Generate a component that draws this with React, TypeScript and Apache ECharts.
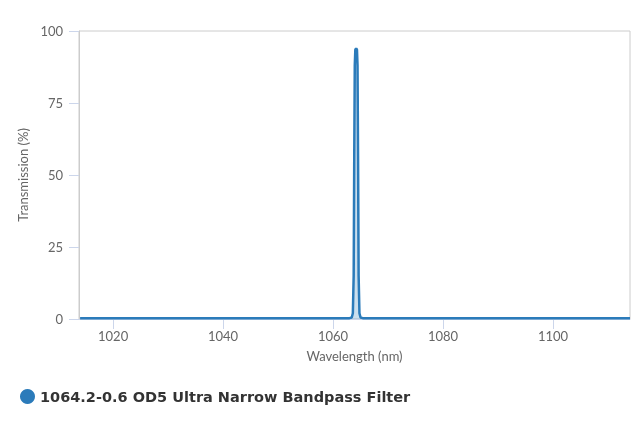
import React, { useEffect, useRef } from 'react';
import * as echarts from 'echarts';

// wavelength (nm) and transmission (%)
const wavelengths = [1014, 1063.0, 1063.4, 1063.6, 1063.75, 1063.85, 1063.95, 1064.05, 1064.2, 1064.35, 1064.45, 1064.55, 1064.65, 1064.8, 1065.0, 1065.4, 1114];
const transmission = [0.3, 0.3, 0.5, 2, 15, 55, 88, 93.5, 94, 93.5, 88, 55, 15, 2, 0.5, 0.3, 0.3];
const xTicks = [1020, 1040, 1060, 1080, 1100];
const yTicks = [0, 25, 50, 75, 100];
const seriesName = '1064.2-0.6 OD5 Ultra Narrow Bandpass Filter';

const App: React.FC = () => {
    const chartRef: any = useRef(null);

    useEffect(() => {
        const chart = echarts.init(chartRef.current, null, { renderer: 'svg' });
        const labelStyle = { color: '#666', fontSize: 13, fontFamily: 'Lato' };
        const option = {
            animation: false,
            grid: {
                left: 79, right: 10, top: 31, bottom: 108,
                show: true, borderColor: '#ccc', borderWidth: 1,
            },
            legend: {
                left: 15, top: 384,
                icon: 'circle', itemWidth: 15, itemHeight: 15, itemGap: 6,
                textStyle: { color: '#333', fontSize: 14.5, fontWeight: 'bold', fontFamily: 'DejaVu Sans' },
                data: [seriesName],
            },
            xAxis: {
                type: 'value',
                min: 1013.8,
                max: 1114,
                name: 'Wavelength (nm)',
                nameLocation: 'middle',
                nameGap: 30,
                nameTextStyle: labelStyle,
                axisLine: { lineStyle: { color: '#ccd6eb' } },
                axisTick: { show: true, length: 10, lineStyle: { color: '#ccd6eb' }, customValues: xTicks },
                axisLabel: { ...labelStyle, margin: 10, customValues: xTicks, formatter: (v: number) => String(v) },
                splitLine: { show: false },
            },
            yAxis: {
                type: 'value',
                min: 0,
                max: 100,
                interval: 25,
                name: 'Transmission (%)',
                nameLocation: 'middle',
                nameGap: 48,
                nameTextStyle: labelStyle,
                axisLine: { show: true, lineStyle: { color: '#ccc' } },
                axisTick: { show: true, length: 10, lineStyle: { color: '#ccd6eb' }, customValues: yTicks },
                axisLabel: { ...labelStyle, margin: 16 },
                splitLine: { show: false },
            },
            series: [{
                name: seriesName,
                type: 'line',
                data: wavelengths.map((w, i) => [w, transmission[i]]),
                showSymbol: false,
                color: '#2b7bba',
                lineStyle: { width: 2.5, color: '#2b7bba' },
                areaStyle: { color: 'rgba(43,123,186,0.35)' },
            }],
        };
        chart.setOption(option);
        return () => {
            chart.dispose();
        };
    }, []);

    return <div ref={chartRef} style={{ width: 640, height: 427, position: 'fixed', left: 0, top: 0 }}></div>;
};

export default App;
